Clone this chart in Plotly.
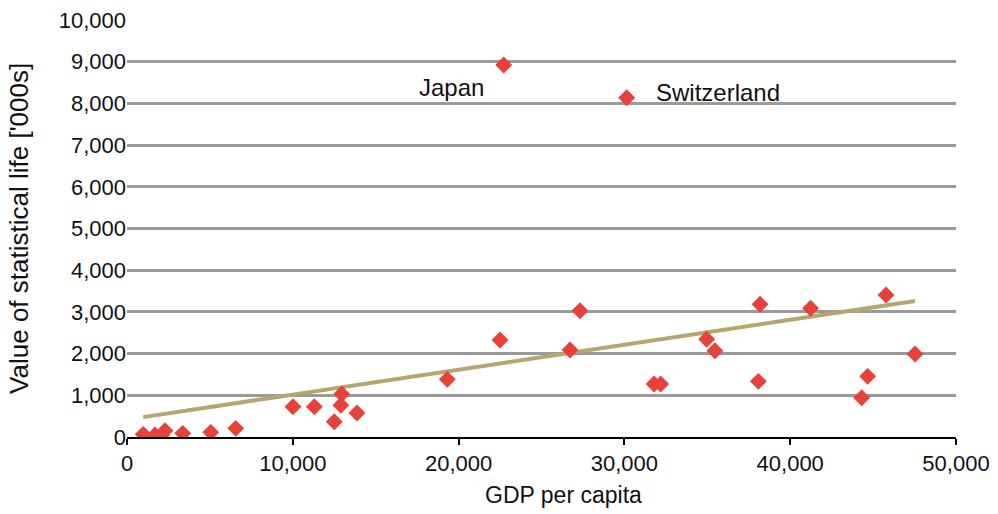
import numpy as np
import plotly.graph_objects as go

# GDP per capita and value of statistical life ('000s) by country
gdp = [980, 1690, 2090, 2290, 3360, 5050, 6560, 10010, 11300, 12950, 12900,
       12500, 13870, 19320, 22500, 26720, 27320, 31790, 32190, 34960, 35460,
       38180, 38080, 41230, 44310, 44670, 45780, 47530, 22720, 30140]
vsl = [64, 48, 48, 151, 88, 112, 208, 727, 727, 1031, 760,
       367, 575, 1383, 2326, 2086, 3029, 1271, 1271, 2343, 2070,
       3182, 1335, 3086, 942, 1455, 3405, 1990, 8921, 8137]

x_ticks = [0, 10000, 20000, 30000, 40000, 50000]
y_ticks = list(range(0, 10001, 1000))

# Linear trend fitted over all observations
slope, intercept = np.polyfit(gdp, vsl, 1)
tx = np.array([min(gdp), max(gdp)])
ty = slope * tx + intercept

font = "Liberation Sans, Arial, sans-serif"

fig = go.Figure()
fig.add_trace(go.Scatter(
    x=tx, y=ty, mode="lines",
    line=dict(color="#B4A66C", width=4),
    hoverinfo="skip", showlegend=False))
fig.add_trace(go.Scatter(
    x=gdp, y=vsl, mode="markers",
    marker=dict(symbol="diamond", size=13, color="#E8413A"),
    showlegend=False))

# Country call-outs
fig.add_annotation(x=19600, y=8390, text="Japan", showarrow=False,
                   xanchor="center", yanchor="middle",
                   font=dict(size=24, color="#111"))
fig.add_annotation(x=31800, y=8270, text="Switzerland", showarrow=False,
                   xanchor="left", yanchor="middle",
                   font=dict(size=24, color="#111"))

# Axis titles
fig.add_annotation(xref="paper", yref="paper", x=0.526, y=-0.139,
                   text="GDP per capita", showarrow=False,
                   xanchor="center", yanchor="middle",
                   font=dict(size=23, color="#111"))
fig.add_annotation(xref="paper", yref="paper", x=-0.131, y=0.5,
                   text="Value of statistical life ['000s]", showarrow=False,
                   textangle=-90, xanchor="center", yanchor="middle",
                   font=dict(size=26, color="#111"))

fig.update_layout(
    width=998, height=514,
    margin=dict(l=127, r=42, t=20, b=77),
    paper_bgcolor="white", plot_bgcolor="white",
    font=dict(family=font, size=22, color="#111"),
    xaxis=dict(
        range=[0, 50000], tickvals=x_ticks, tickformat=",",
        showgrid=False, zeroline=False, automargin=False,
        showline=True, linecolor="black", linewidth=2,
        ticks="outside", ticklen=6, tickwidth=2, tickcolor="black",
        tickfont=dict(size=22)),
    yaxis=dict(
        range=[0, 10000], tickvals=y_ticks, tickformat=",",
        showgrid=True, gridcolor="#9A9A9A", gridwidth=2.5,
        zeroline=False, showline=False, ticks="", automargin=False,
        tickfont=dict(size=22)),
)

fig.write_html("out.html")
